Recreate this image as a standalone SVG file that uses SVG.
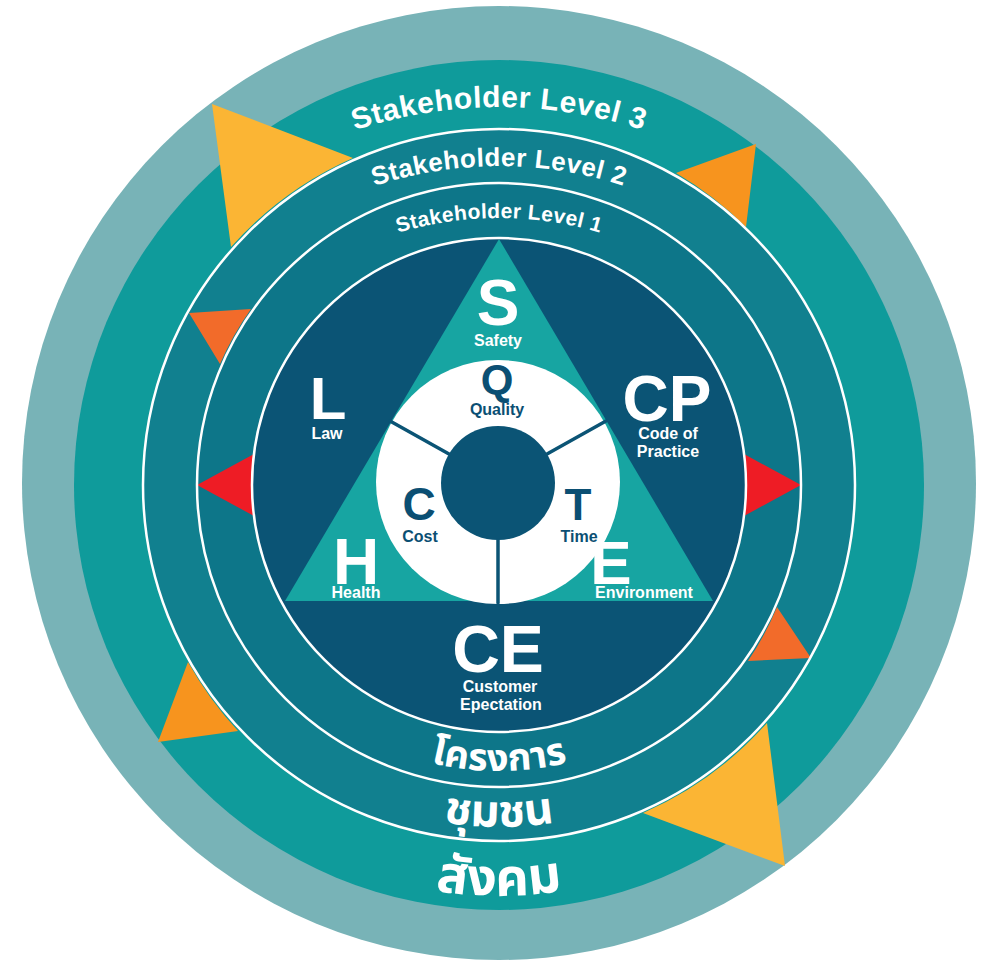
<svg xmlns="http://www.w3.org/2000/svg" width="987" height="962" viewBox="0 0 987 962">
<defs>
<style>
.w{fill:#ffffff}
.n{fill:#0B4F73}
.big{font-family:"Liberation Sans",Arial,sans-serif;font-weight:bold;text-anchor:middle}
.sm{font-family:"Liberation Sans",Arial,sans-serif;font-weight:bold;text-anchor:middle;font-size:16px}
.lvl{font-family:"Liberation Sans",Arial,sans-serif;font-weight:bold;fill:#ffffff}
.th{font-family:"Noto Sans Thai","Noto Sans Thai Looped","Loma","Garuda","Kinnari","Norasi","Tlwg Typo","Waree","Noto Sans","DejaVu Sans",sans-serif;font-weight:bold;fill:#ffffff}
.ring{fill:none;stroke:#ffffff;stroke-width:2.5}
.spoke{stroke:#0B5475;stroke-width:3.5;stroke-linecap:round}
</style>
<path id="arcL3" d="M 38 568 A 461 461 0 0 1 960 568"/>
<path id="arcL2" d="M 97 568 A 402 402 0 0 1 901 568"/>
<path id="arcL1" d="M 149 568 A 350 350 0 0 1 849 568"/>
<path id="arcT1" d="M 213 485 A 286 286 0 0 0 785 485"/>
<path id="arcT2" d="M 157 485 A 342 342 0 0 0 841 485"/>
<path id="arcT3" d="M 88 485 A 411 411 0 0 0 910 485"/>
</defs>

<g id="rings">
<circle cx="499" cy="483" r="477" fill="#78B3B7"/>
<circle cx="499" cy="485" r="425" fill="#0F9B9B"/>
<circle cx="499" cy="485" r="356" fill="#11808F"/>
<circle cx="499" cy="485" r="302" fill="#0D7689"/>
<circle cx="499" cy="485" r="247" fill="#0B5475"/>
</g>

<g id="triangle">
<polygon points="499,239 713,601 285,601" fill="#17A5A2"/>
</g>

<g id="hub">
<circle cx="498" cy="482" r="122" fill="#ffffff"/>
<circle cx="498" cy="483" r="57" fill="#0B5475"/>
<line class="spoke" x1="449" y1="454" x2="390" y2="421"/>
<line class="spoke" x1="547" y1="454" x2="606" y2="421"/>
<line class="spoke" x1="498" y1="540" x2="498" y2="603"/>
</g>

<g id="flags">
<path d="M 212 104 L 353 158 A 356 356 0 0 0 231 247 Z" fill="#FBB534"/>
<path d="M 756 144 L 746 227 A 356 356 0 0 0 676 173 Z" fill="#F7941E"/>
<path d="M 158 742 L 188 662 A 356 356 0 0 0 238 731 Z" fill="#F7941E"/>
<path d="M 785 866 L 643 813 A 356 356 0 0 0 767 723 Z" fill="#FBB534"/>
<path d="M 189 313 L 251 309 A 302 302 0 0 0 220 364 Z" fill="#F26B2A"/>
<path d="M 811 658 L 748 661 A 302 302 0 0 0 777 607 Z" fill="#F26B2A"/>
<path d="M 197 485 L 254 454 A 247 247 0 0 0 254 516 Z" fill="#EE1C25"/>
<path d="M 801 485 L 744 516 A 247 247 0 0 0 744 454 Z" fill="#EE1C25"/>
</g>

<g id="ring-lines">
<circle class="ring" cx="499" cy="485" r="356"/>
<circle class="ring" cx="499" cy="485" r="302"/>
<circle class="ring" cx="499" cy="485" r="247"/>
</g>

<g id="level-labels">
<text class="lvl" font-size="30" letter-spacing="0.6"><textPath href="#arcL3" startOffset="50%" text-anchor="middle">Stakeholder Level 3</textPath></text>
<text class="lvl" font-size="26" letter-spacing="0.5"><textPath href="#arcL2" startOffset="50%" text-anchor="middle">Stakeholder Level 2</textPath></text>
<text class="lvl" font-size="21" letter-spacing="0.4"><textPath href="#arcL1" startOffset="50%" text-anchor="middle">Stakeholder Level 1</textPath></text>
</g>

<g id="thai-labels">
<text class="th" font-size="38"><textPath href="#arcT1" startOffset="50%" text-anchor="middle">โครงการ</textPath></text>
<text class="th" font-size="45"><textPath href="#arcT2" startOffset="50%" text-anchor="middle">ชุมชน</textPath></text>
<text class="th" font-size="52"><textPath href="#arcT3" startOffset="50%" text-anchor="middle">สังคม</textPath></text>
</g>

<g id="node-S">
<text class="big w" x="498" y="325" font-size="64">S</text>
<text class="sm w" x="498" y="346">Safety</text>
</g>
<g id="node-Q">
<text class="big n" x="497" y="394" font-size="42">Q</text>
<text class="sm n" x="497" y="415">Quality</text>
</g>
<g id="node-L">
<text class="big w" x="328" y="419" font-size="60">L</text>
<text class="sm w" x="327" y="439" font-size="15">Law</text>
</g>
<g id="node-CP">
<text class="big w" x="667" y="421" font-size="64">CP</text>
<text class="sm w" x="668" y="439">Code of</text>
<text class="sm w" x="668" y="457">Practice</text>
</g>
<g id="node-C">
<text class="big n" x="419" y="520" font-size="46">C</text>
<text class="sm n" x="420" y="542" font-size="15">Cost</text>
</g>
<g id="node-T">
<text class="big n" x="578" y="520" font-size="44">T</text>
<text class="sm n" x="579" y="542" font-size="15">Time</text>
</g>
<g id="node-H">
<text class="big w" x="356" y="584" font-size="64">H</text>
<text class="sm w" x="356" y="598">Health</text>
</g>
<g id="node-E">
<text class="big w" x="611" y="584" font-size="62">E</text>
<text class="sm w" x="644" y="598">Environment</text>
</g>
<g id="node-CE">
<text class="big w" x="498" y="672" font-size="66">CE</text>
<text class="sm w" x="500" y="692">Customer</text>
<text class="sm w" x="501" y="710">Epectation</text>
</g>
</svg>
